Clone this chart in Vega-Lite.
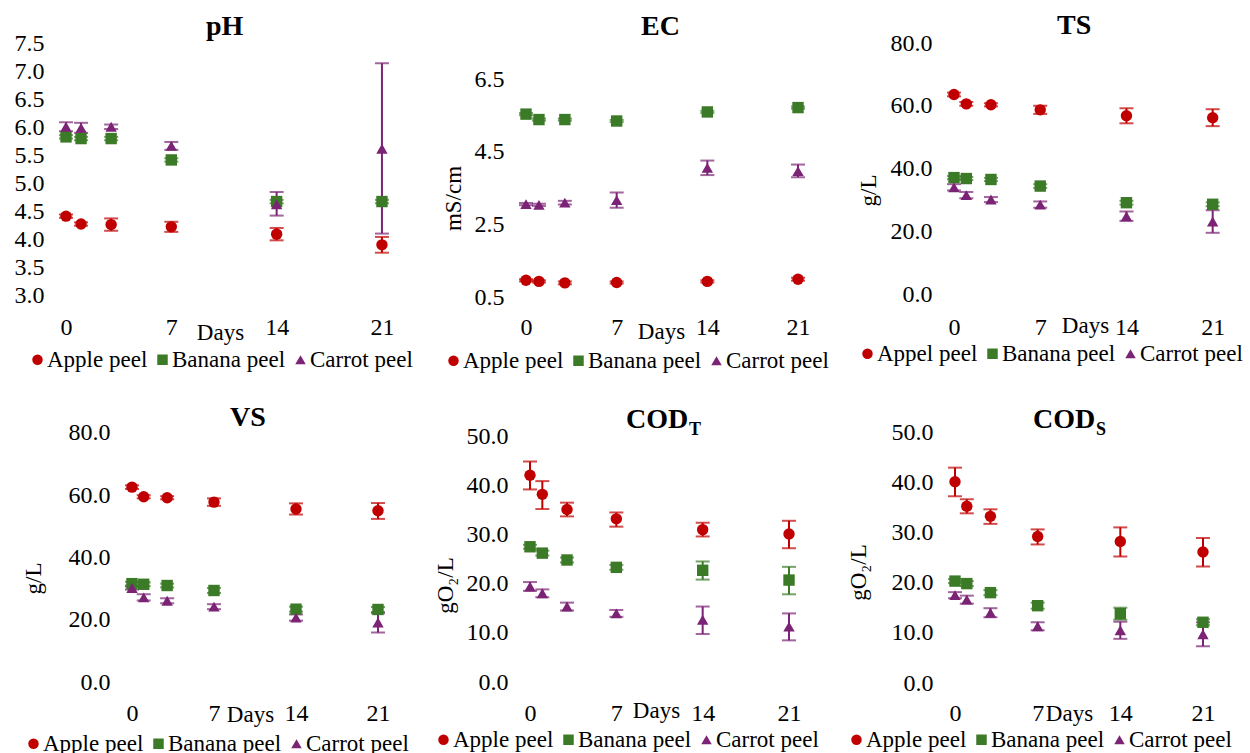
{
  "$schema": "https://vega.github.io/schema/vega-lite/v6.json",
  "autosize": {"type": "none"},
  "padding": {"left": 66, "top": 43, "right": 1184, "bottom": 710},
  "background": "white",
  "datasets": {
    "ph": [
      {"series": "Apple peel", "day": 0, "value": 4.42, "lo": 4.39, "hi": 4.45},
      {"series": "Apple peel", "day": 1, "value": 4.28, "lo": 4.25, "hi": 4.31},
      {"series": "Apple peel", "day": 3, "value": 4.27, "lo": 4.16, "hi": 4.38},
      {"series": "Apple peel", "day": 7, "value": 4.23, "lo": 4.14, "hi": 4.32},
      {"series": "Apple peel", "day": 14, "value": 4.10, "lo": 3.99, "hi": 4.21},
      {"series": "Apple peel", "day": 21, "value": 3.91, "lo": 3.77, "hi": 4.05},
      {"series": "Banana peel", "day": 0, "value": 5.83, "lo": 5.80, "hi": 5.86},
      {"series": "Banana peel", "day": 1, "value": 5.80, "lo": 5.77, "hi": 5.83},
      {"series": "Banana peel", "day": 3, "value": 5.80, "lo": 5.77, "hi": 5.83},
      {"series": "Banana peel", "day": 7, "value": 5.42, "lo": 5.39, "hi": 5.45},
      {"series": "Banana peel", "day": 14, "value": 4.68, "lo": 4.65, "hi": 4.71},
      {"series": "Banana peel", "day": 21, "value": 4.68, "lo": 4.65, "hi": 4.71},
      {"series": "Carrot peel", "day": 0, "value": 6.01, "lo": 5.93, "hi": 6.09},
      {"series": "Carrot peel", "day": 1, "value": 5.99, "lo": 5.90, "hi": 6.08},
      {"series": "Carrot peel", "day": 3, "value": 6.01, "lo": 5.97, "hi": 6.05},
      {"series": "Carrot peel", "day": 7, "value": 5.67, "lo": 5.60, "hi": 5.74},
      {"series": "Carrot peel", "day": 14, "value": 4.63, "lo": 4.43, "hi": 4.85},
      {"series": "Carrot peel", "day": 21, "value": 5.62, "lo": 4.11, "hi": 7.14}
    ],
    "ec": [
      {"series": "Apple peel", "day": 0, "value": 0.96, "lo": 0.93, "hi": 0.99},
      {"series": "Apple peel", "day": 1, "value": 0.93, "lo": 0.90, "hi": 0.96},
      {"series": "Apple peel", "day": 3, "value": 0.89, "lo": 0.85, "hi": 0.93},
      {"series": "Apple peel", "day": 7, "value": 0.90, "lo": 0.87, "hi": 0.93},
      {"series": "Apple peel", "day": 14, "value": 0.93, "lo": 0.90, "hi": 0.96},
      {"series": "Apple peel", "day": 21, "value": 0.99, "lo": 0.95, "hi": 1.03},
      {"series": "Banana peel", "day": 0, "value": 5.54, "lo": 5.51, "hi": 5.57},
      {"series": "Banana peel", "day": 1, "value": 5.39, "lo": 5.36, "hi": 5.42},
      {"series": "Banana peel", "day": 3, "value": 5.39, "lo": 5.36, "hi": 5.42},
      {"series": "Banana peel", "day": 7, "value": 5.35, "lo": 5.32, "hi": 5.38},
      {"series": "Banana peel", "day": 14, "value": 5.60, "lo": 5.57, "hi": 5.63},
      {"series": "Banana peel", "day": 21, "value": 5.72, "lo": 5.69, "hi": 5.75},
      {"series": "Carrot peel", "day": 0, "value": 3.06, "lo": 3.03, "hi": 3.09},
      {"series": "Carrot peel", "day": 1, "value": 3.04, "lo": 3.01, "hi": 3.07},
      {"series": "Carrot peel", "day": 3, "value": 3.10, "lo": 3.05, "hi": 3.15},
      {"series": "Carrot peel", "day": 7, "value": 3.17, "lo": 2.96, "hi": 3.38},
      {"series": "Carrot peel", "day": 14, "value": 4.06, "lo": 3.86, "hi": 4.26},
      {"series": "Carrot peel", "day": 21, "value": 3.97, "lo": 3.80, "hi": 4.15}
    ],
    "ts": [
      {"series": "Appel peel", "day": 0, "value": 63.6, "lo": 63.0, "hi": 64.2},
      {"series": "Appel peel", "day": 1, "value": 60.6, "lo": 60.0, "hi": 61.2},
      {"series": "Appel peel", "day": 3, "value": 60.3, "lo": 59.8, "hi": 60.8},
      {"series": "Appel peel", "day": 7, "value": 58.7, "lo": 57.4, "hi": 60.0},
      {"series": "Appel peel", "day": 14, "value": 56.8, "lo": 54.4, "hi": 59.2},
      {"series": "Appel peel", "day": 21, "value": 56.2, "lo": 53.5, "hi": 58.9},
      {"series": "Banana peel", "day": 0, "value": 37.1, "lo": 36.6, "hi": 37.6},
      {"series": "Banana peel", "day": 1, "value": 36.8, "lo": 36.3, "hi": 37.3},
      {"series": "Banana peel", "day": 3, "value": 36.5, "lo": 36.0, "hi": 37.0},
      {"series": "Banana peel", "day": 7, "value": 34.4, "lo": 33.8, "hi": 35.0},
      {"series": "Banana peel", "day": 14, "value": 29.1, "lo": 28.5, "hi": 29.7},
      {"series": "Banana peel", "day": 21, "value": 28.6, "lo": 28.0, "hi": 29.2},
      {"series": "Carrot peel", "day": 0, "value": 34.0, "lo": 33.0, "hi": 35.0},
      {"series": "Carrot peel", "day": 1, "value": 31.5, "lo": 30.5, "hi": 32.5},
      {"series": "Carrot peel", "day": 3, "value": 30.1, "lo": 29.3, "hi": 30.9},
      {"series": "Carrot peel", "day": 7, "value": 28.5, "lo": 27.5, "hi": 29.5},
      {"series": "Carrot peel", "day": 14, "value": 24.8, "lo": 23.3, "hi": 26.3},
      {"series": "Carrot peel", "day": 21, "value": 23.1, "lo": 19.5, "hi": 26.7}
    ],
    "vs": [
      {"series": "Apple peel", "day": 0, "value": 62.6, "lo": 62.0, "hi": 63.2},
      {"series": "Apple peel", "day": 1, "value": 59.5, "lo": 59.0, "hi": 60.0},
      {"series": "Apple peel", "day": 3, "value": 59.2, "lo": 58.7, "hi": 59.7},
      {"series": "Apple peel", "day": 7, "value": 57.8, "lo": 56.6, "hi": 59.0},
      {"series": "Apple peel", "day": 14, "value": 55.6, "lo": 53.8, "hi": 57.4},
      {"series": "Apple peel", "day": 21, "value": 55.0, "lo": 52.4, "hi": 57.5},
      {"series": "Banana peel", "day": 0, "value": 31.6, "lo": 31.0, "hi": 32.2},
      {"series": "Banana peel", "day": 1, "value": 31.4, "lo": 30.8, "hi": 32.0},
      {"series": "Banana peel", "day": 3, "value": 31.0, "lo": 30.4, "hi": 31.6},
      {"series": "Banana peel", "day": 7, "value": 29.4, "lo": 28.6, "hi": 30.2},
      {"series": "Banana peel", "day": 14, "value": 23.4, "lo": 22.6, "hi": 24.2},
      {"series": "Banana peel", "day": 21, "value": 23.3, "lo": 22.5, "hi": 24.1},
      {"series": "Carrot peel", "day": 0, "value": 30.2, "lo": 29.7, "hi": 30.7},
      {"series": "Carrot peel", "day": 1, "value": 27.2, "lo": 26.2, "hi": 28.2},
      {"series": "Carrot peel", "day": 3, "value": 26.1, "lo": 25.3, "hi": 26.9},
      {"series": "Carrot peel", "day": 7, "value": 24.2, "lo": 23.4, "hi": 25.0},
      {"series": "Carrot peel", "day": 14, "value": 20.7, "lo": 19.7, "hi": 21.7},
      {"series": "Carrot peel", "day": 21, "value": 19.1, "lo": 15.9, "hi": 22.1}
    ],
    "codt": [
      {"series": "Apple peel", "day": 0, "value": 42.2, "lo": 39.3, "hi": 45.0},
      {"series": "Apple peel", "day": 1, "value": 38.3, "lo": 35.3, "hi": 41.0},
      {"series": "Apple peel", "day": 3, "value": 35.2, "lo": 33.8, "hi": 36.6},
      {"series": "Apple peel", "day": 7, "value": 33.3, "lo": 31.7, "hi": 34.6},
      {"series": "Apple peel", "day": 14, "value": 31.1, "lo": 29.7, "hi": 32.5},
      {"series": "Apple peel", "day": 21, "value": 30.2, "lo": 27.3, "hi": 32.9},
      {"series": "Banana peel", "day": 0, "value": 27.6, "lo": 27.2, "hi": 28.0},
      {"series": "Banana peel", "day": 1, "value": 26.3, "lo": 25.8, "hi": 26.8},
      {"series": "Banana peel", "day": 3, "value": 24.9, "lo": 24.4, "hi": 25.4},
      {"series": "Banana peel", "day": 7, "value": 23.4, "lo": 22.9, "hi": 23.9},
      {"series": "Banana peel", "day": 14, "value": 22.8, "lo": 20.9, "hi": 24.6},
      {"series": "Banana peel", "day": 21, "value": 20.8, "lo": 17.9, "hi": 23.5},
      {"series": "Carrot peel", "day": 0, "value": 19.5, "lo": 18.6, "hi": 20.4},
      {"series": "Carrot peel", "day": 1, "value": 18.1, "lo": 17.3, "hi": 18.9},
      {"series": "Carrot peel", "day": 3, "value": 15.4, "lo": 14.6, "hi": 16.2},
      {"series": "Carrot peel", "day": 7, "value": 14.0, "lo": 13.3, "hi": 14.7},
      {"series": "Carrot peel", "day": 14, "value": 12.7, "lo": 9.8, "hi": 15.4},
      {"series": "Carrot peel", "day": 21, "value": 11.3, "lo": 8.5, "hi": 14.0}
    ],
    "cods": [
      {"series": "Apple peel", "day": 0, "value": 40.1, "lo": 37.2, "hi": 42.9},
      {"series": "Apple peel", "day": 1, "value": 35.2, "lo": 33.8, "hi": 36.6},
      {"series": "Apple peel", "day": 3, "value": 33.2, "lo": 31.7, "hi": 34.6},
      {"series": "Apple peel", "day": 7, "value": 29.2, "lo": 27.6, "hi": 30.6},
      {"series": "Apple peel", "day": 14, "value": 28.2, "lo": 25.2, "hi": 31.0},
      {"series": "Apple peel", "day": 21, "value": 26.1, "lo": 23.2, "hi": 28.9},
      {"series": "Banana peel", "day": 0, "value": 20.3, "lo": 19.9, "hi": 20.7},
      {"series": "Banana peel", "day": 1, "value": 19.8, "lo": 19.3, "hi": 20.3},
      {"series": "Banana peel", "day": 3, "value": 18.0, "lo": 17.5, "hi": 18.5},
      {"series": "Banana peel", "day": 7, "value": 15.4, "lo": 14.8, "hi": 16.0},
      {"series": "Banana peel", "day": 14, "value": 13.8, "lo": 12.6, "hi": 15.0},
      {"series": "Banana peel", "day": 21, "value": 12.1, "lo": 11.5, "hi": 12.7},
      {"series": "Carrot peel", "day": 0, "value": 17.5, "lo": 16.9, "hi": 18.1},
      {"series": "Carrot peel", "day": 1, "value": 16.6, "lo": 15.8, "hi": 17.4},
      {"series": "Carrot peel", "day": 3, "value": 14.0, "lo": 13.1, "hi": 14.9},
      {"series": "Carrot peel", "day": 7, "value": 11.3, "lo": 10.5, "hi": 12.1},
      {"series": "Carrot peel", "day": 14, "value": 10.5, "lo": 8.8, "hi": 12.2},
      {"series": "Carrot peel", "day": 21, "value": 9.7, "lo": 7.3, "hi": 12.1}
    ]
  },
  "concat": [
    {
      "width": 331, "height": 254,
      "data": {"name": "ph"},
      "title": {"text": "pH", "anchor": "start", "frame": "group", "dx": 140, "offset": -10, "baseline": "top"},
      "encoding": {
        "x": {"field": "day", "type": "quantitative", "scale": {"domain": [0, 22], "nice": false, "zero": false}, "axis": {"values": [0, 7, 14, 21], "format": "d", "title": "Days", "titleX": 154, "titleY": 42}},
        "color": {"field": "series", "type": "nominal", "scale": {"domain": ["Apple peel", "Banana peel", "Carrot peel"], "range": ["#C00000", "#3B7A26", "#7B2374"]}, "legend": {"title": null, "legendX": -40, "legendY": 305}}
      },
      "layer": [
        {"data": {"values": [{}]}, "mark": {"type": "rule", "strokeWidth": 2.5}, "encoding": {"x": {"datum": 0, "type": "quantitative"}, "y": {"datum": 3.0, "type": "quantitative", "scale": {"domain": [2.982, 7.5], "nice": false, "zero": false}, "axis": {"values": [3, 3.5, 4, 4.5, 5, 5.5, 6, 6.5, 7, 7.5], "tickCount": 10, "format": ".1f", "title": null, "offset": 0, "labelOverlap": false, "labelSeparation": -20}}, "y2": {"datum": 7.5}, "color": {"value": "#BFBFBF"}}},
        {"data": {"values": [{}]}, "mark": {"type": "rule", "strokeWidth": 2.5}, "encoding": {"x": {"datum": 0, "type": "quantitative"}, "x2": {"datum": 22}, "y": {"datum": 3.0, "type": "quantitative", "axis": {"values": [3, 3.5, 4, 4.5, 5, 5.5, 6, 6.5, 7, 7.5], "tickCount": 10, "format": ".1f", "title": null, "offset": 0, "labelOverlap": false, "labelSeparation": -20}}, "color": {"value": "#BFBFBF"}}},
        {"mark": {"type": "rule", "strokeWidth": 2}, "encoding": {"y": {"field": "lo", "type": "quantitative", "title": null, "axis": {"values": [3, 3.5, 4, 4.5, 5, 5.5, 6, 6.5, 7, 7.5], "tickCount": 10, "format": ".1f", "title": null, "offset": 0, "labelOverlap": false, "labelSeparation": -20}}, "y2": {"field": "hi"}}},
        {"mark": {"type": "tick", "orient": "horizontal", "size": 14, "thickness": 2}, "encoding": {"y": {"field": "lo", "type": "quantitative", "title": null, "axis": {"values": [3, 3.5, 4, 4.5, 5, 5.5, 6, 6.5, 7, 7.5], "tickCount": 10, "format": ".1f", "title": null, "offset": 0, "labelOverlap": false, "labelSeparation": -20}}}},
        {"mark": {"type": "tick", "orient": "horizontal", "size": 14, "thickness": 2}, "encoding": {"y": {"field": "hi", "type": "quantitative", "title": null, "axis": {"values": [3, 3.5, 4, 4.5, 5, 5.5, 6, 6.5, 7, 7.5], "tickCount": 10, "format": ".1f", "title": null, "offset": 0, "labelOverlap": false, "labelSeparation": -20}}}},
        {"mark": {"type": "point", "filled": true, "opacity": 1, "size": 130}, "encoding": {"y": {"field": "value", "type": "quantitative", "title": null, "axis": {"values": [3, 3.5, 4, 4.5, 5, 5.5, 6, 6.5, 7, 7.5], "tickCount": 10, "format": ".1f", "title": null, "offset": 0, "labelOverlap": false, "labelSeparation": -20}}, "shape": {"field": "series", "type": "nominal", "scale": {"domain": ["Apple peel", "Banana peel", "Carrot peel"], "range": ["circle", "square", "triangle-up"]}, "legend": {"title": null, "legendX": -40, "legendY": 305}}}}
      ]
    },
    {
      "width": 286, "height": 254,
      "data": {"name": "ec"},
      "title": {"text": "EC", "anchor": "start", "frame": "group", "dx": 115, "offset": 2, "baseline": "top"},
      "encoding": {
        "x": {"field": "day", "type": "quantitative", "scale": {"domain": [0, 22.08], "nice": false, "zero": false}, "axis": {"values": [0, 7, 14, 21], "format": "d", "title": "Days", "titleX": 135, "titleY": 41}},
        "color": {"field": "series", "type": "nominal", "scale": {"domain": ["Apple peel", "Banana peel", "Carrot peel"], "range": ["#C00000", "#3B7A26", "#7B2374"]}, "legend": {"title": null, "legendX": -84, "legendY": 306}}
      },
      "layer": [
        {"data": {"values": [{}]}, "mark": {"type": "rule", "strokeWidth": 2.5}, "encoding": {"x": {"datum": 0, "type": "quantitative"}, "y": {"datum": 0.5, "type": "quantitative", "scale": {"domain": [0.5, 7.5], "nice": false, "zero": false}, "axis": {"values": [0.5, 2.5, 4.5, 6.5], "format": ".1f", "title": "mS/cm", "offset": 0, "titleX": -73, "titleY": 155, "labelOverlap": false}}, "y2": {"datum": 7.5}, "color": {"value": "#BFBFBF"}}},
        {"data": {"values": [{}]}, "mark": {"type": "rule", "strokeWidth": 2.5}, "encoding": {"x": {"datum": 0, "type": "quantitative"}, "x2": {"datum": 22}, "y": {"datum": 0.5, "type": "quantitative"}, "color": {"value": "#BFBFBF"}}},
        {"mark": {"type": "rule", "strokeWidth": 2}, "encoding": {"y": {"field": "lo", "type": "quantitative", "title": "mS/cm"}, "y2": {"field": "hi"}}},
        {"mark": {"type": "tick", "orient": "horizontal", "size": 14, "thickness": 2}, "encoding": {"y": {"field": "lo", "type": "quantitative", "title": "mS/cm"}}},
        {"mark": {"type": "tick", "orient": "horizontal", "size": 14, "thickness": 2}, "encoding": {"y": {"field": "hi", "type": "quantitative", "title": "mS/cm"}}},
        {"mark": {"type": "point", "filled": true, "opacity": 1, "size": 130}, "encoding": {"y": {"field": "value", "type": "quantitative", "title": "mS/cm"}, "shape": {"field": "series", "type": "nominal", "scale": {"domain": ["Apple peel", "Banana peel", "Carrot peel"], "range": ["circle", "square", "triangle-up"]}, "legend": {"title": null, "legendX": -84, "legendY": 306}}}}
      ]
    },
    {
      "width": 284, "height": 254,
      "data": {"name": "ts"},
      "title": {"text": "TS", "anchor": "start", "frame": "group", "dx": 116, "offset": -9, "baseline": "top"},
      "encoding": {
        "x": {"field": "day", "type": "quantitative", "scale": {"domain": [-1.055, 22], "nice": false, "zero": false}, "axis": {"values": [0, 7, 14, 21], "format": "d", "title": "Days", "titleX": 144, "titleY": 35}},
        "color": {"field": "series", "type": "nominal", "scale": {"domain": ["Appel peel", "Banana peel", "Carrot peel"], "range": ["#C00000", "#3B7A26", "#7B2374"]}, "legend": {"title": null, "legendX": -85, "legendY": 299}}
      },
      "layer": [
        {"data": {"values": [{}]}, "mark": {"type": "rule", "strokeWidth": 2.5}, "encoding": {"x": {"datum": 0, "type": "quantitative"}, "y": {"datum": 0, "type": "quantitative", "scale": {"domain": [-0.956, 80], "nice": false, "zero": false}, "axis": {"values": [0, 20, 40, 60, 80], "format": ".1f", "title": "g/L", "offset": -13, "titleX": -86, "titleY": 147, "labelOverlap": false}}, "y2": {"datum": 80}, "color": {"value": "#BFBFBF"}}},
        {"data": {"values": [{}]}, "mark": {"type": "rule", "strokeWidth": 2.5}, "encoding": {"x": {"datum": 0, "type": "quantitative"}, "x2": {"datum": 22}, "y": {"datum": 0, "type": "quantitative"}, "color": {"value": "#BFBFBF"}}},
        {"mark": {"type": "rule", "strokeWidth": 2}, "encoding": {"y": {"field": "lo", "type": "quantitative", "title": "g/L"}, "y2": {"field": "hi"}}},
        {"mark": {"type": "tick", "orient": "horizontal", "size": 14, "thickness": 2}, "encoding": {"y": {"field": "lo", "type": "quantitative", "title": "g/L"}}},
        {"mark": {"type": "tick", "orient": "horizontal", "size": 14, "thickness": 2}, "encoding": {"y": {"field": "hi", "type": "quantitative", "title": "g/L"}}},
        {"mark": {"type": "point", "filled": true, "opacity": 1, "size": 130}, "encoding": {"y": {"field": "value", "type": "quantitative", "title": "g/L"}, "shape": {"field": "series", "type": "nominal", "scale": {"domain": ["Appel peel", "Banana peel", "Carrot peel"], "range": ["circle", "square", "triangle-up"]}, "legend": {"title": null, "legendX": -85, "legendY": 299}}}}
      ]
    },
    {
      "width": 324, "height": 251,
      "data": {"name": "vs"},
      "title": {"text": "VS", "anchor": "start", "frame": "group", "dx": 164, "offset": -11, "baseline": "top"},
      "encoding": {
        "x": {"field": "day", "type": "quantitative", "scale": {"domain": [-5.634, 22.025], "nice": false, "zero": false}, "axis": {"values": [0, 7, 14, 21], "format": "d", "title": "Days", "titleX": 184, "titleY": 38}},
        "color": {"field": "series", "type": "nominal", "scale": {"domain": ["Apple peel", "Banana peel", "Carrot peel"], "range": ["#C00000", "#3B7A26", "#7B2374"]}, "legend": {"title": null, "legendX": -44, "legendY": 300}}
      },
      "layer": [
        {"data": {"values": [{}]}, "mark": {"type": "rule", "strokeWidth": 2.5}, "encoding": {"x": {"datum": 0, "type": "quantitative"}, "y": {"datum": 0, "type": "quantitative", "scale": {"domain": [-0.32, 80.32], "nice": false, "zero": false}, "axis": {"values": [0, 20, 40, 60, 80], "format": ".1f", "title": "g/L", "offset": -66, "titleX": -99, "titleY": 146, "labelOverlap": false}}, "y2": {"datum": 80}, "color": {"value": "#BFBFBF"}}},
        {"data": {"values": [{}]}, "mark": {"type": "rule", "strokeWidth": 2.5}, "encoding": {"x": {"datum": 0, "type": "quantitative"}, "x2": {"datum": 22}, "y": {"datum": 0, "type": "quantitative"}, "color": {"value": "#BFBFBF"}}},
        {"mark": {"type": "rule", "strokeWidth": 2}, "encoding": {"y": {"field": "lo", "type": "quantitative", "title": "g/L"}, "y2": {"field": "hi"}}},
        {"mark": {"type": "tick", "orient": "horizontal", "size": 14, "thickness": 2}, "encoding": {"y": {"field": "lo", "type": "quantitative", "title": "g/L"}}},
        {"mark": {"type": "tick", "orient": "horizontal", "size": 14, "thickness": 2}, "encoding": {"y": {"field": "hi", "type": "quantitative", "title": "g/L"}}},
        {"mark": {"type": "point", "filled": true, "opacity": 1, "size": 130}, "encoding": {"y": {"field": "value", "type": "quantitative", "title": "g/L"}, "shape": {"field": "series", "type": "nominal", "scale": {"domain": ["Apple peel", "Banana peel", "Carrot peel"], "range": ["circle", "square", "triangle-up"]}, "legend": {"title": null, "legendX": -44, "legendY": 300}}}}
      ]
    },
    {
      "width": 283, "height": 251,
      "data": {"name": "codt"},
      "title": {"text": "COD", "subtitle": "\u200b\u00a0\u00a0\u00a0\u00a0\u00a0\u00a0\u00a0\u00a0\u00a0\u00a0\u00a0\u00a0\u00a0\u00a0T", "anchor": "start", "frame": "group", "dx": 100, "offset": -14, "baseline": "top", "subtitlePadding": -13},
      "encoding": {
        "x": {"field": "day", "type": "quantitative", "scale": {"domain": [-0.324, 22.62], "nice": false, "zero": false}, "axis": {"values": [0, 7, 14, 21], "format": "d", "title": "Days", "titleX": 130, "titleY": 34}},
        "color": {"field": "series", "type": "nominal", "scale": {"domain": ["Apple peel", "Banana peel", "Carrot peel"], "range": ["#C00000", "#3B7A26", "#7B2374"]}, "legend": {"title": null, "legendX": -94, "legendY": 296}}
      },
      "layer": [
        {"data": {"values": [{}]}, "mark": {"type": "rule", "strokeWidth": 2.5}, "encoding": {"x": {"datum": 0, "type": "quantitative"}, "y": {"datum": 0, "type": "quantitative", "scale": {"domain": [-0.204, 51.02], "nice": false, "zero": false}, "axis": {"values": [0, 10, 20, 30, 40, 50], "format": ".1f", "title": "gO₂/L", "offset": -4, "titleX": -85, "titleY": 153, "labelOverlap": false}}, "y2": {"datum": 50}, "color": {"value": "#BFBFBF"}}},
        {"data": {"values": [{}]}, "mark": {"type": "rule", "strokeWidth": 2.5}, "encoding": {"x": {"datum": 0, "type": "quantitative"}, "x2": {"datum": 22}, "y": {"datum": 0, "type": "quantitative"}, "color": {"value": "#BFBFBF"}}},
        {"mark": {"type": "rule", "strokeWidth": 2}, "encoding": {"y": {"field": "lo", "type": "quantitative", "title": "gO₂/L"}, "y2": {"field": "hi"}}},
        {"mark": {"type": "tick", "orient": "horizontal", "size": 14, "thickness": 2}, "encoding": {"y": {"field": "lo", "type": "quantitative", "title": "gO₂/L"}}},
        {"mark": {"type": "tick", "orient": "horizontal", "size": 14, "thickness": 2}, "encoding": {"y": {"field": "hi", "type": "quantitative", "title": "gO₂/L"}}},
        {"mark": {"type": "point", "filled": true, "opacity": 1, "size": 130}, "encoding": {"y": {"field": "value", "type": "quantitative", "title": "gO₂/L"}, "shape": {"field": "series", "type": "nominal", "scale": {"domain": ["Apple peel", "Banana peel", "Carrot peel"], "range": ["circle", "square", "triangle-up"]}, "legend": {"title": null, "legendX": -94, "legendY": 296}}}}
      ]
    },
    {
      "width": 285, "height": 251,
      "data": {"name": "cods"},
      "title": {"text": "COD", "subtitle": "\u200b\u00a0\u00a0\u00a0\u00a0\u00a0\u00a0\u00a0\u00a0\u00a0\u00a0\u00a0\u00a0\u00a0\u00a0S", "anchor": "start", "frame": "group", "dx": 92, "offset": -19, "baseline": "top", "subtitlePadding": -13},
      "encoding": {
        "x": {"field": "day", "type": "quantitative", "scale": {"domain": [-1.185, 22.95], "nice": false, "zero": false}, "axis": {"values": [0, 7, 14, 21], "format": "d", "title": "Days", "titleX": 128, "titleY": 37}},
        "color": {"field": "series", "type": "nominal", "scale": {"domain": ["Apple peel", "Banana peel", "Carrot peel"], "range": ["#C00000", "#3B7A26", "#7B2374"]}, "legend": {"title": null, "legendX": -96, "legendY": 296}}
      },
      "layer": [
        {"data": {"values": [{}]}, "mark": {"type": "rule", "strokeWidth": 2.5}, "encoding": {"x": {"datum": 0, "type": "quantitative"}, "y": {"datum": 0, "type": "quantitative", "scale": {"domain": [0, 50], "nice": false, "zero": false}, "axis": {"values": [0, 10, 20, 30, 40, 50], "format": ".1f", "title": "gO₂/L", "offset": -14, "titleX": -97, "titleY": 140, "labelOverlap": false}}, "y2": {"datum": 50}, "color": {"value": "#BFBFBF"}}},
        {"data": {"values": [{}]}, "mark": {"type": "rule", "strokeWidth": 2.5}, "encoding": {"x": {"datum": 0, "type": "quantitative"}, "x2": {"datum": 22}, "y": {"datum": 0, "type": "quantitative"}, "color": {"value": "#BFBFBF"}}},
        {"mark": {"type": "rule", "strokeWidth": 2}, "encoding": {"y": {"field": "lo", "type": "quantitative", "title": "gO₂/L"}, "y2": {"field": "hi"}}},
        {"mark": {"type": "tick", "orient": "horizontal", "size": 14, "thickness": 2}, "encoding": {"y": {"field": "lo", "type": "quantitative", "title": "gO₂/L"}}},
        {"mark": {"type": "tick", "orient": "horizontal", "size": 14, "thickness": 2}, "encoding": {"y": {"field": "hi", "type": "quantitative", "title": "gO₂/L"}}},
        {"mark": {"type": "point", "filled": true, "opacity": 1, "size": 130}, "encoding": {"y": {"field": "value", "type": "quantitative", "title": "gO₂/L"}, "shape": {"field": "series", "type": "nominal", "scale": {"domain": ["Apple peel", "Banana peel", "Carrot peel"], "range": ["circle", "square", "triangle-up"]}, "legend": {"title": null, "legendX": -96, "legendY": 296}}}}
      ]
    }
  ],
  "columns": 3,
  "align": "each",
  "bounds": "flush",
  "spacing": {"row": 135, "column": 129},
  "resolve": {
    "scale": {"color": "independent", "shape": "independent", "x": "independent", "y": "independent"},
    "legend": {"color": "independent", "shape": "independent"}
  },
  "config": {
    "font": "Liberation Serif",
    "view": {"stroke": null},
    "axis": {
      "grid": false, "ticks": false, "domain": false, "labelOverlap": false, "labelBound": false, "labelFlush": false,
      "labelFont": "Liberation Serif", "labelFontSize": 24, "labelColor": "#000000", "labelPadding": 20,
      "titleFont": "Liberation Serif", "titleFontSize": 23, "titleFontWeight": "normal", "titleColor": "#000000"
    },
    "axisX": {"labelPadding": 18, "titleBaseline": "alphabetic", "titleAlign": "center", "titleAngle": 0},
    "axisY": {"labelPadding": 22, "titleAngle": 270, "titleBaseline": "middle", "titleAlign": "center"},
    "title": {
      "font": "Liberation Serif", "fontSize": 28, "fontWeight": "bold", "color": "#000000",
      "subtitleFont": "Liberation Serif", "subtitleFontSize": 18, "subtitleFontWeight": "bold", "subtitleColor": "#000000"
    },
    "legend": {
      "orient": "none", "direction": "horizontal", "padding": 0,
      "labelFont": "Liberation Serif", "labelFontSize": 23, "labelColor": "#000000", "labelOffset": -2,
      "columnPadding": 3, "symbolSize": 110, "symbolStrokeWidth": 0, "symbolOpacity": 1
    }
  }
}
